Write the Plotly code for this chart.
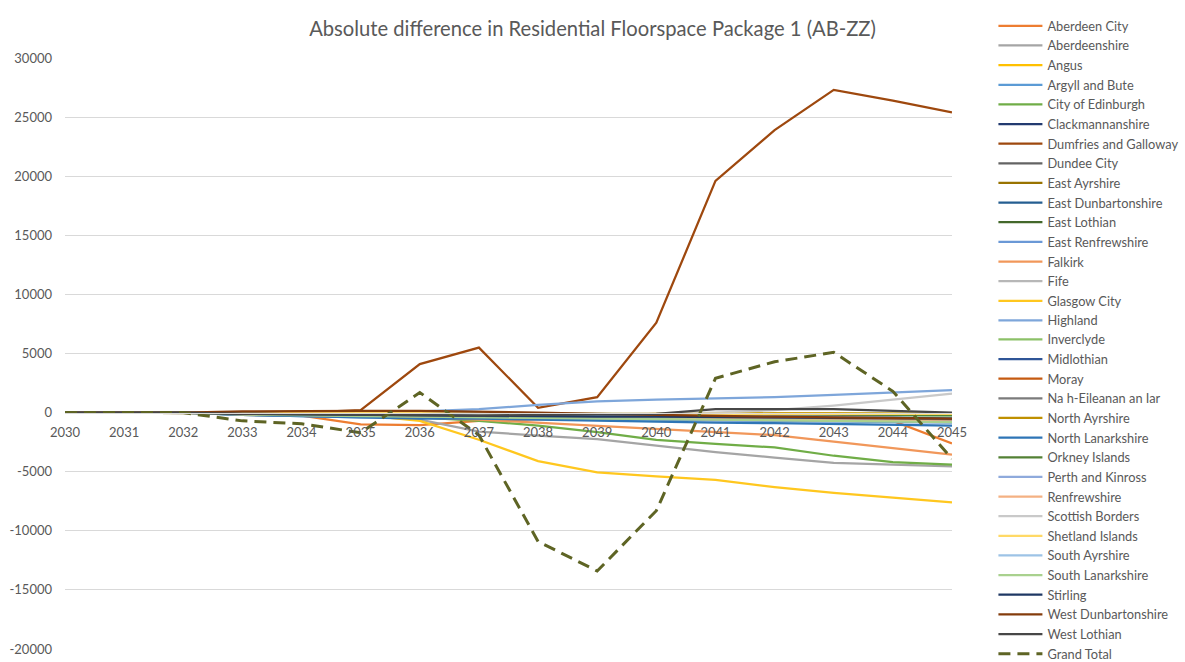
import plotly.graph_objects as go

years = list(range(2030, 2046))

aberdeen_city = [0, 0, 0, -100, -250, -1000, -1050, -700, -550, -500, -450, -400, -400, -450, -700, -2600]
aberdeenshire = [0, 0, 0, -100, -200, -300, -600, -1600, -1950, -2250, -2800, -3350, -3800, -4250, -4400, -4550]
angus = [0, 0, 0, -50, -100, -150, -150, -200, -200, -250, -250, -100, -100, -150, -200, -250]
argyll_and_bute = [0, 0, 0, -150, -250, -300, -350, -400, -450, -500, -550, -600, -600, -650, -700, -750]
city_of_edinburgh = [0, 0, 0, -100, -200, -300, -400, -700, -1100, -1650, -2300, -2650, -2950, -3650, -4200, -4400]
clackmannanshire = [0, 0, 0, -50, -100, -100, -150, -150, -200, -200, -200, -250, -250, -250, -300, -300]
dumfries_and_galloway = [0, 0, 0, 0, 0, 200, 4100, 5500, 400, 1300, 7600, 19600, 23900, 27300, 26400, 25400]
dundee_city = [0, 0, 0, -100, -150, -200, -250, -250, -300, -300, -250, -200, -200, -250, -300, -350]
east_ayrshire = [0, 0, 0, -100, -150, -200, -200, -250, -250, -300, -300, -300, -350, -350, -400, -400]
east_dunbartonshire = [0, 0, 0, -150, -250, -300, -350, -350, -400, -400, -450, -450, -500, -500, -550, -550]
east_lothian = [0, 0, 0, -200, -300, -350, -400, -400, -450, -450, -500, -500, -550, -550, -600, -650]
east_renfrewshire = [0, 0, 0, -200, -300, -400, -400, -450, -500, -550, -600, -650, -700, -750, -800, -850]
falkirk = [0, 0, 0, -100, -200, -300, -400, -600, -850, -1100, -1350, -1600, -1900, -2450, -3000, -3550]
fife = [0, 0, 0, -100, -200, -250, -300, -300, -350, -350, -400, -400, -450, -450, -500, -500]
glasgow_city = [0, 0, 0, 0, -100, -200, -700, -2300, -4100, -5050, -5400, -5700, -6300, -6800, -7200, -7600]
highland = [0, 0, 0, 0, 0, 0, 100, 300, 650, 950, 1100, 1200, 1300, 1500, 1700, 1900]
inverclyde = [0, 0, 0, -50, -100, -100, -150, -150, -200, -200, -200, -250, -250, -250, -300, -300]
midlothian = [0, 0, 0, -100, -150, -200, -250, -300, -350, -400, -450, -500, -550, -600, -650, -700]
moray = [0, 0, 0, -50, -100, -150, -200, -250, -300, -350, -400, -400, -450, -450, -500, -500]
na_h_eileanan = [0, 0, 0, -50, -50, -100, -100, -100, -150, -150, -150, -150, -200, -200, -200, -200]
north_ayrshire = [0, 0, 0, -100, -150, -150, -200, -200, -250, -250, -100, -50, -50, -50, -100, -100]
north_lanarkshire = [0, 0, 0, -200, -300, -400, -500, -500, -600, -700, -800, -850, -900, -950, -1000, -1100]
orkney_islands = [0, 0, 0, -50, -50, -50, -100, -100, -100, -100, -150, -150, -150, -150, -200, -200]
perth_and_kinross = [0, 0, 0, -100, -150, -200, -200, -250, -300, -300, -350, -400, -400, -450, -450, -500]
renfrewshire = [0, 0, 0, -150, -200, -250, -300, -350, -400, -450, -500, -550, -600, -650, -700, -750]
scottish_borders = [0, 0, 0, -50, -100, -100, -150, -150, -200, -200, -100, 0, 200, 600, 1100, 1600]
shetland_islands = [0, 0, 0, 0, -50, -50, -50, -100, -100, -100, -100, -50, -50, -50, -100, -100]
south_ayrshire = [0, 0, 0, -100, -150, -200, -200, -250, -250, -300, -300, -350, -350, -400, -400, -450]
south_lanarkshire = [0, 0, 0, -150, -250, -300, -350, -400, -450, -500, -550, -600, -650, -700, -750, -800]
stirling = [0, 0, 0, -100, -150, -200, -250, -300, -300, -350, -350, -400, -400, -450, -450, -500]
west_dunbartonshire = [0, 0, 0, 100, 150, 150, 150, 100, 0, -100, -200, -300, -350, -400, -450, -500]
west_lothian = [0, 0, 0, -100, -150, -200, -250, -250, -200, -150, -100, 300, 300, 300, 150, 0]
grand_total = [0, 0, 0, -700, -950, -1700, 1700, -1900, -10900, -13400, -8300, 2900, 4300, 5100, 1800, -3900]

series = [
    ("Aberdeen City", aberdeen_city, "#ED7D31"),
    ("Aberdeenshire", aberdeenshire, "#A5A5A5"),
    ("Angus", angus, "#FFC000"),
    ("Argyll and Bute", argyll_and_bute, "#5B9BD5"),
    ("City of Edinburgh", city_of_edinburgh, "#70AD47"),
    ("Clackmannanshire", clackmannanshire, "#223A70"),
    ("Dumfries and Galloway", dumfries_and_galloway, "#9E480E"),
    ("Dundee City", dundee_city, "#636363"),
    ("East Ayrshire", east_ayrshire, "#997300"),
    ("East Dunbartonshire", east_dunbartonshire, "#255E91"),
    ("East Lothian", east_lothian, "#43682B"),
    ("East Renfrewshire", east_renfrewshire, "#6A98D6"),
    ("Falkirk", falkirk, "#F1975A"),
    ("Fife", fife, "#B7B7B7"),
    ("Glasgow City", glasgow_city, "#FFC71F"),
    ("Highland", highland, "#7EA6DA"),
    ("Inverclyde", inverclyde, "#8CC168"),
    ("Midlothian", midlothian, "#2F5597"),
    ("Moray", moray, "#C55A11"),
    ("Na h-Eileanan an Iar", na_h_eileanan, "#7B7B7B"),
    ("North Ayrshire", north_ayrshire, "#BF9000"),
    ("North Lanarkshire", north_lanarkshire, "#2E75B6"),
    ("Orkney Islands", orkney_islands, "#538135"),
    ("Perth and Kinross", perth_and_kinross, "#8FAADC"),
    ("Renfrewshire", renfrewshire, "#F4B183"),
    ("Scottish Borders", scottish_borders, "#C9C9C9"),
    ("Shetland Islands", shetland_islands, "#FFD966"),
    ("South Ayrshire", south_ayrshire, "#9DC3E6"),
    ("South Lanarkshire", south_lanarkshire, "#A9D18E"),
    ("Stirling", stirling, "#1F3864"),
    ("West Dunbartonshire", west_dunbartonshire, "#843C0C"),
    ("West Lothian", west_lothian, "#474747"),
]

y_ticks = list(range(-20000, 30001, 5000))
FONT = "Lato"
GREY_TEXT = "#595959"

fig = go.Figure()
# The key is long, so it is split over two stacked legend boxes.
for i, (name, values, colour) in enumerate(series):
    fig.add_trace(go.Scatter(
        x=years, y=values, name=name, mode="lines",
        line=dict(color=colour, width=2.25),
        legend="legend" if i < 16 else "legend2",
    ))
fig.add_trace(go.Scatter(
    x=years, y=grand_total, name="Grand Total", mode="lines",
    line=dict(color="#5E6424", width=3, dash="12px,7px"),
    legend="legend2",
))

y_min, y_max = -20000, 30000
zero_pos = (0 - y_min) / (y_max - y_min)

legend_common = dict(
    x=1.0467, xanchor="left", yanchor="top",
    font=dict(family=FONT, size=12.8, color=GREY_TEXT),
    itemwidth=44, bgcolor="rgba(0,0,0,0)", tracegroupgap=0,
)

fig.update_layout(
    width=1185, height=662,
    margin=dict(l=65, r=233, t=58, b=13, autoexpand=False),
    paper_bgcolor="white", plot_bgcolor="white",
    font=dict(family=FONT, color=GREY_TEXT),
    title=dict(
        text="Absolute difference in Residential Floorspace Package 1 (AB-ZZ)",
        x=0.5, xref="container", xanchor="center",
        y=1 - 29 / 662, yref="container", yanchor="middle",
        font=dict(family=FONT, size=20.2, color=GREY_TEXT),
    ),
    xaxis=dict(
        range=[2030, 2045], tickvals=years, ticktext=[str(v) for v in years],
        showgrid=False, zeroline=False,
        showline=True, linecolor="#D9D9D9", linewidth=1,
        anchor="free", position=zero_pos,
        ticks="", ticklabelstandoff=8,
        tickfont=dict(family=FONT, size=13, color=GREY_TEXT),
    ),
    yaxis=dict(
        range=[y_min, y_max], tickvals=y_ticks,
        ticktext=[str(v) for v in y_ticks],
        showgrid=True, gridcolor="#D9D9D9", gridwidth=1,
        zeroline=False, showline=False, ticks="",
        ticklabelstandoff=12,
        tickfont=dict(family=FONT, size=13, color=GREY_TEXT),
    ),
    legend=dict(y=1.0795, **legend_common),
    legend2=dict(y=0.5489, **legend_common),
    showlegend=True,
)

fig.write_html("out.html")
